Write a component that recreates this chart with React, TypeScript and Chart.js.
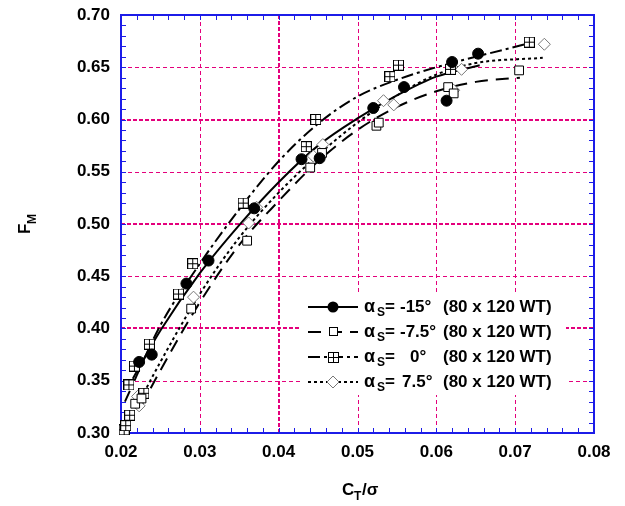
import React, { useEffect, useRef } from "react";
import { Chart, registerables } from "chart.js";

Chart.register(...registerables);

// Figure of merit F_M versus blade loading C_T/σ, 80 x 120 wind tunnel runs
const X_MIN = 0.02;
const X_MAX = 0.08;
const Y_MIN = 0.3;
const Y_MAX = 0.7;
const xGridValues = [0.03, 0.04, 0.05, 0.06, 0.07];
const yGridValues = [0.35, 0.4, 0.45, 0.5, 0.55, 0.6, 0.65];
const yGridStrong = [0.4, 0.5, 0.6];
const xGridStrong = [0.04];

// Measured points, α_S = -15°
const ctM15 = [0.0223, 0.0239, 0.0283, 0.0311, 0.0369, 0.0429, 0.0452, 0.052, 0.0559, 0.0613, 0.062, 0.0653];
const fmM15 = [0.368, 0.375, 0.443, 0.465, 0.515, 0.562, 0.563, 0.611, 0.631, 0.618, 0.655, 0.663];
// α_S = -7.5°
const ctM75 = [0.0218, 0.0226, 0.0289, 0.036, 0.044, 0.0455, 0.0524, 0.0527, 0.0615, 0.0622, 0.0705];
const fmM75 = [0.328, 0.333, 0.419, 0.484, 0.554, 0.568, 0.594, 0.597, 0.631, 0.625, 0.647];
// α_S = 0°
const ctZ = [0.0204, 0.0206, 0.0211, 0.0229, 0.021, 0.0217, 0.0236, 0.0273, 0.0291, 0.0355, 0.0435, 0.0447, 0.0541, 0.0552, 0.0618, 0.0718];
const fmZ = [0.303, 0.307, 0.317, 0.338, 0.346, 0.364, 0.385, 0.433, 0.462, 0.52, 0.574, 0.6, 0.641, 0.652, 0.648, 0.674];
// α_S = 7.5°
const ctP75 = [0.0221, 0.0223, 0.0292, 0.0362, 0.0372, 0.0444, 0.0456, 0.0533, 0.0546, 0.0622, 0.0632, 0.0737];
const fmP75 = [0.335, 0.326, 0.43, 0.501, 0.516, 0.565, 0.576, 0.618, 0.614, 0.628, 0.648, 0.672];

// Faired curves through each set
const fitCtM15 = [0.0215, 0.025, 0.03, 0.035, 0.04, 0.045, 0.05, 0.055, 0.06, 0.0655];
const fitFmM15 = [0.352, 0.398, 0.453, 0.499, 0.54, 0.575, 0.601, 0.623, 0.641, 0.652];
const fitCtM75 = [0.0225, 0.025, 0.03, 0.035, 0.04, 0.045, 0.05, 0.055, 0.06, 0.065, 0.0706];
const fitFmM75 = [0.325, 0.36, 0.425, 0.48, 0.522, 0.56, 0.59, 0.612, 0.627, 0.636, 0.64];
const fitCtZ = [0.0205, 0.025, 0.03, 0.035, 0.04, 0.045, 0.05, 0.055, 0.06, 0.065, 0.0718];
const fitFmZ = [0.33, 0.403, 0.462, 0.514, 0.56, 0.596, 0.622, 0.638, 0.65, 0.66, 0.673];
const fitCtP75 = [0.0215, 0.025, 0.03, 0.035, 0.04, 0.045, 0.05, 0.055, 0.06, 0.065, 0.0735];
const fitFmP75 = [0.318, 0.368, 0.433, 0.487, 0.53, 0.566, 0.597, 0.623, 0.643, 0.654, 0.659];

const legendValues = ["-15°", "-7.5°", "0°", "7.5°"];
const legendTail = "(80 x 120 WT)";

const BLUE = "rgb(28,28,232)";
const MAGENTA = "#e4007c";
const FONT = "'Liberation Sans', Arial, sans-serif";

const pts = (xs: number[], ys: number[]) => xs.map((x, i) => ({ x, y: ys[i] }));

function gridSquareMarker(): HTMLCanvasElement {
  const c = document.createElement("canvas");
  c.width = 11;
  c.height = 11;
  const g = c.getContext("2d")!;
  g.fillStyle = "#fff";
  g.fillRect(0, 0, 11, 11);
  g.strokeStyle = "#000";
  g.lineWidth = 1;
  g.strokeRect(0.5, 0.5, 10, 10);
  g.beginPath();
  g.moveTo(5.5, 0.5);
  g.lineTo(5.5, 10.5);
  g.moveTo(0.5, 5.5);
  g.lineTo(10.5, 5.5);
  g.stroke();
  return c;
}

const DASH_M15: number[] = [];
const DASH_M75 = [13, 8];
const DASH_Z = [12, 4, 3, 4];
const DASH_P75 = [3, 3];

export default function App() {
  const ref = useRef<HTMLCanvasElement | null>(null);

  useEffect(() => {
    const canvas = ref.current;
    if (!canvas) return;
    const gsq = gridSquareMarker();

    const markerDefs = [
      { style: "circle", radius: 5.5, fill: "#000", stroke: "#000" },
      { style: "rect", radius: 6.2, fill: "#fff", stroke: "#000" },
      { style: gsq, radius: 6, fill: "#fff", stroke: "#000" },
      { style: "rectRot", radius: 6, fill: "#fff", stroke: "#777" },
    ];
    const dashes = [DASH_M15, DASH_M75, DASH_Z, DASH_P75];

    const scatterSet = (data: { x: number; y: number }[], k: number) => ({
      data,
      showLine: false,
      pointStyle: markerDefs[k].style as any,
      pointRadius: markerDefs[k].radius,
      pointBackgroundColor: markerDefs[k].fill,
      pointBorderColor: markerDefs[k].stroke,
      pointBorderWidth: 1,
      clip: false as any,
      order: 0,
    });
    const curveSet = (data: { x: number; y: number }[], k: number) => ({
      data,
      showLine: true,
      pointRadius: 0,
      borderColor: "#000",
      borderWidth: 2,
      borderDash: dashes[k],
      cubicInterpolationMode: "monotone" as const,
      order: 1,
    });

    const framePlugin = {
      id: "frameGrid",
      beforeDatasetsDraw(chart: any) {
        const { ctx, chartArea: a, scales } = chart;
        const xs = scales.x;
        const ys = scales.y;
        ctx.save();
        ctx.strokeStyle = MAGENTA;
        for (const v of yGridValues) {
          const strong = yGridStrong.some((s) => Math.abs(s - v) < 1e-9);
          const py = Math.round(ys.getPixelForValue(v)) + (strong ? 0 : 0.5);
          ctx.lineWidth = strong ? 2 : 1;
          ctx.setLineDash(strong ? [4, 2] : [4, 3]);
          ctx.beginPath();
          ctx.moveTo(a.left, py);
          ctx.lineTo(a.right, py);
          ctx.stroke();
        }
        for (const v of xGridValues) {
          const strong = xGridStrong.some((s) => Math.abs(s - v) < 1e-9);
          const px = Math.round(xs.getPixelForValue(v)) + (strong ? 0 : 0.5);
          ctx.lineWidth = strong ? 2 : 1;
          ctx.setLineDash(strong ? [4, 2] : [4, 3]);
          ctx.beginPath();
          ctx.moveTo(px, a.top);
          ctx.lineTo(px, a.bottom);
          ctx.stroke();
        }
        ctx.setLineDash([]);
        // blue box with inward ticks on every side
        ctx.strokeStyle = BLUE;
        ctx.lineWidth = 2;
        ctx.strokeRect(a.left, a.top, a.right - a.left, a.bottom - a.top);
        ctx.lineWidth = 1;
        const tl = 5;
        ctx.beginPath();
        for (let i = 0; i <= 30; i++) {
          const v = X_MIN + i * 0.002;
          const px = Math.round(xs.getPixelForValue(v)) + 0.5;
          ctx.moveTo(px, a.bottom);
          ctx.lineTo(px, a.bottom - tl);
          ctx.moveTo(px, a.top);
          ctx.lineTo(px, a.top + tl);
        }
        for (let i = 0; i <= 40; i++) {
          const v = Y_MIN + i * 0.01;
          const py = Math.round(ys.getPixelForValue(v)) + 0.5;
          ctx.moveTo(a.left, py);
          ctx.lineTo(a.left + tl, py);
          ctx.moveTo(a.right, py);
          ctx.lineTo(a.right - tl, py);
        }
        ctx.stroke();
        ctx.restore();
      },
      afterDatasetsDraw(chart: any) {
        const { ctx } = chart;
        ctx.save();
        // legend block
        ctx.fillStyle = "#fff";
        ctx.fillRect(300, 293, 266, 102);
        const rowY = [307, 332, 357, 382];
        const valueX = [400, 400, 410, 402];
        for (let k = 0; k < 4; k++) {
          const y = rowY[k];
          ctx.strokeStyle = "#000";
          ctx.lineWidth = 2;
          ctx.setLineDash(dashes[k]);
          ctx.beginPath();
          ctx.moveTo(308, y);
          ctx.lineTo(358, y);
          ctx.stroke();
          ctx.setLineDash([]);
          const m = markerDefs[k];
          ctx.lineWidth = 1;
          ctx.strokeStyle = m.stroke;
          ctx.fillStyle = m.fill;
          if (k === 0) {
            ctx.beginPath();
            ctx.arc(333, y, 5.5, 0, Math.PI * 2);
            ctx.fill();
          } else if (k === 1) {
            ctx.fillRect(329, y - 4, 9, 9);
            ctx.strokeRect(329.5, y - 4.5, 8, 8);
          } else if (k === 2) {
            ctx.drawImage(gsq, 328, y - 5);
          } else {
            ctx.beginPath();
            ctx.moveTo(333, y - 6);
            ctx.lineTo(339, y);
            ctx.lineTo(333, y + 6);
            ctx.lineTo(327, y);
            ctx.closePath();
            ctx.fill();
            ctx.stroke();
          }
          ctx.fillStyle = "#000";
          ctx.textBaseline = "middle";
          ctx.textAlign = "left";
          ctx.font = `bold 18px ${FONT}`;
          ctx.fillText("α", 364, y);
          ctx.font = `bold 12px ${FONT}`;
          ctx.fillText("S", 377, y + 6);
          ctx.font = `bold 17px ${FONT}`;
          ctx.fillText("=", 385, y);
          ctx.fillText(legendValues[k], valueX[k], y);
          ctx.fillText(legendTail, 443, y);
        }
        ctx.restore();
      },
      afterDraw(chart: any) {
        const { ctx } = chart;
        ctx.save();
        ctx.fillStyle = "#000";
        ctx.textAlign = "left";
        ctx.textBaseline = "alphabetic";
        // x title: C_T/σ
        ctx.font = `bold 17px ${FONT}`;
        ctx.fillText("C", 342, 495);
        ctx.font = `bold 12px ${FONT}`;
        ctx.fillText("T", 354, 500);
        ctx.font = `bold 17px ${FONT}`;
        ctx.fillText("/σ", 362, 495);
        // y title: F_M
        ctx.translate(30, 224);
        ctx.rotate(-Math.PI / 2);
        ctx.font = `bold 17px ${FONT}`;
        ctx.fillText("F", -10, 0);
        ctx.font = `bold 12px ${FONT}`;
        ctx.fillText("M", 0, 6);
        ctx.restore();
      },
    };

    const chart = new Chart(canvas, {
      type: "scatter",
      data: {
        datasets: [
          scatterSet(pts(ctM15, fmM15), 0),
          scatterSet(pts(ctM75, fmM75), 1),
          scatterSet(pts(ctZ, fmZ), 2),
          scatterSet(pts(ctP75, fmP75), 3),
          curveSet(pts(fitCtM15, fitFmM15), 0),
          curveSet(pts(fitCtM75, fitFmM75), 1),
          curveSet(pts(fitCtZ, fitFmZ), 2),
          curveSet(pts(fitCtP75, fitFmP75), 3),
        ] as any,
      },
      options: {
        responsive: false,
        animation: false,
        events: [],
        layout: { padding: { left: 0, top: 15, right: 31, bottom: 0 } },
        plugins: { legend: { display: false }, tooltip: { enabled: false } },
        scales: {
          x: {
            type: "linear",
            min: X_MIN,
            max: X_MAX,
            grid: { display: false, drawTicks: false },
            border: { display: false },
            afterFit: (s: any) => {
              s.height = 73;
            },
            ticks: {
              stepSize: 0.01,
              autoSkip: false,
              maxRotation: 0,
              padding: 9,
              color: "#000",
              font: { family: FONT, size: 17, weight: "bold" },
              callback: (v: any) => Number(v).toFixed(2),
            },
          },
          y: {
            type: "linear",
            min: Y_MIN,
            max: Y_MAX,
            grid: { display: false, drawTicks: false },
            border: { display: false },
            afterFit: (s: any) => {
              s.width = 121;
            },
            ticks: {
              stepSize: 0.05,
              padding: 11,
              color: "#000",
              font: { family: FONT, size: 17, weight: "bold", lineHeight: 0.3 },
              callback: (v: any) => Number(v).toFixed(2),
            },
          },
        },
      },
      plugins: [framePlugin],
    });
    return () => chart.destroy();
  }, []);

  return (
    <div style={{ position: "fixed", left: 0, top: 0, width: 625, height: 506, background: "#fff" }}>
      <canvas ref={ref} width={625} height={506} style={{ width: 625, height: 506, display: "block" }} />
    </div>
  );
}
